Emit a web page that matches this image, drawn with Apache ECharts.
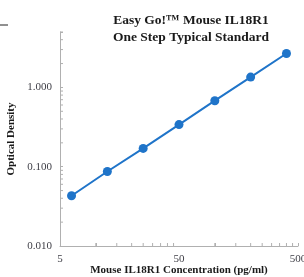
<!DOCTYPE html>
<html><head><meta charset="utf-8">
<script src="https://cdn.jsdelivr.net/npm/echarts@6/dist/echarts.min.js"></script>
<style>html,body{margin:0;padding:0;background:#fff}#c{width:304px;height:277px}</style>
</head><body><div id="c"></div>
<script>
var concentrations = [6.25, 12.5, 25, 50, 100, 200, 400];
var odValues = [0.043, 0.087, 0.17, 0.34, 0.68, 1.35, 2.68];
var yTickLabels = ['0.010', '0.100', '1.000'];
var xTickValues = [5, 50, 500];
var xTickLabels = ['5', '50', '500'];
var xMinorTicks = [10,15,20,25,30,35,40,45,100,150,200,250,300,350,400,450];
var yMinorTicks = [0.02,0.03,0.04,0.05,0.06,0.07,0.08,0.09,0.2,0.3,0.4,0.5,0.6,0.7,0.8,0.9,2,3,4,5];

var serif = 'Liberation Serif, Times New Roman, serif';
var chart = echarts.init(document.getElementById('c'));
var yLabelMap = {0.01: yTickLabels[0], 0.1: yTickLabels[1], 1: yTickLabels[2]};

function minorTickSeries(vals, isX) {
  return {
    type: 'custom', silent: true, clip: false, data: vals, z: 1,
    renderItem: function (params, api) {
      var v = api.value(0);
      var p = isX ? api.coord([v, 0.01]) : api.coord([5, v]);
      var shape = isX ? {x1: p[0], y1: p[1], x2: p[0], y2: p[1] - 3}
                      : {x1: p[0], y1: p[1], x2: p[0] + 3, y2: p[1]};
      return {type: 'line', shape: shape, style: {stroke: '#b0b0b0', lineWidth: 1}};
    }
  };
}

chart.setOption({
  animation: false,
  title: {
    text: 'Easy Go!\u2122 Mouse IL18R1\nOne Step Typical Standard',
    left: 186, top: 7, textAlign: 'center',
    textStyle: {fontFamily: serif, fontWeight: 'bold', fontSize: 13.5, lineHeight: 17, color: '#1a1a1a'}
  },
  graphic: [{type: 'line', shape: {x1: 0, y1: 25, x2: 8, y2: 25}, style: {stroke: '#222', lineWidth: 1}}],
  grid: {left: 60, right: 6, top: 32, bottom: 31, outerBoundsMode: 'none', containLabel: false},
  xAxis: {
    type: 'log', logBase: 10, min: 5, max: 500,
    name: 'Mouse IL18R1 Concentration (pg/ml)', nameLocation: 'middle', nameGap: 19,
    nameTextStyle: {fontFamily: serif, fontWeight: 'bold', fontSize: 11, color: '#1a1a1a'},
    axisLine: {lineStyle: {color: '#b0b0b0', width: 1}},
    axisTick: {inside: true, length: 3, lineStyle: {color: '#b0b0b0'}},
    axisLabel: {show: false},
    splitLine: {show: false}
  },
  yAxis: {
    type: 'log', logBase: 10, min: 0.01, max: 5,
    name: 'Optical Density', nameLocation: 'middle', nameGap: 36, nameRotate: 90,
    nameTextStyle: {fontFamily: serif, fontWeight: 'bold', fontSize: 11, color: '#1a1a1a'},
    axisLine: {show: true, lineStyle: {color: '#b0b0b0', width: 1}},
    axisTick: {show: true, inside: true, length: 3, lineStyle: {color: '#b0b0b0'}},
    axisLabel: {fontFamily: serif, fontSize: 11, color: '#404048', margin: 8,
      formatter: function (v) {
        var r = Math.round(v * 1000) / 1000; return yLabelMap[r] || '';
      }},
    splitLine: {show: false}
  },
  series: [
    minorTickSeries(xMinorTicks, true),
    minorTickSeries(yMinorTicks, false),
    {
      type: 'custom', silent: true, clip: false, z: 2,
      data: xTickValues.map(function (v, i) { return [v, i]; }),
      renderItem: function (params, api) {
        var p = api.coord([api.value(0), 0.01]);
        return {type: 'text', x: p[0], y: p[1] + 8,
          style: {text: xTickLabels[params.dataIndex], fontFamily: serif, fontSize: 11,
                  fill: '#404048', align: 'center', verticalAlign: 'top'}};
      }
    },
    {
      type: 'line', z: 3,
      data: concentrations.map(function (c, i) { return [c, odValues[i]]; }),
      symbol: 'circle', symbolSize: 9,
      lineStyle: {color: '#1f74c9', width: 2},
      itemStyle: {color: '#1f74c9'}
    }
  ]
});
</script></body></html>
